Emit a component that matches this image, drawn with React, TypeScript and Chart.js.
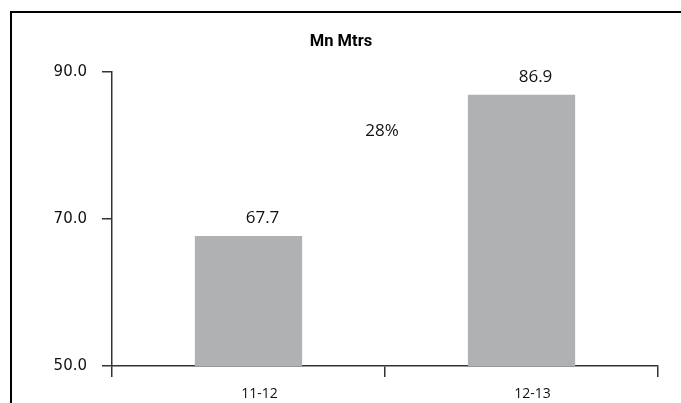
import React, { useEffect, useRef } from "react";
import { Chart, registerables } from "chart.js";

Chart.register(...registerables);

const categories = ["11-12", "12-13"];
const values = [67.7, 86.9];
const yTicks = [50, 70, 90];
const chartTitle = "Mn Mtrs";
const growthLabel = `${Math.round((values[1] / values[0] - 1) * 100)}%`;
const growthLabelAt = 82; // y value where the growth label sits

const overlayPlugin = {
  id: "overlay",
  afterDatasetsDraw(chart: any) {
    const { ctx, scales } = chart;
    const meta = chart.getDatasetMeta(0);
    ctx.save();
    // title
    ctx.fillStyle = "#000";
    ctx.font = "bold 16.5px Roboto";
    ctx.textAlign = "center";
    ctx.textBaseline = "middle";
    ctx.fillText(chartTitle, 341, 42);
    // value labels
    ctx.font = "17px 'Open Sans'";
    ctx.fillStyle = "#111";
    meta.data.forEach((bar: any, i: number) => {
      ctx.fillText(values[i].toFixed(1), bar.x + 14, bar.y - 18);
    });
    // growth label
    const x0 = meta.data[0].x;
    const x1 = meta.data[1].x;
    ctx.fillText(growthLabel, (x0 + x1) / 2 - 3, scales.y.getPixelForValue(growthLabelAt));
    ctx.restore();
  },
};

export default function App() {
  const ref = useRef<HTMLCanvasElement | null>(null);
  useEffect(() => {
    if (!ref.current) return;
    const chart = new Chart(ref.current, {
      type: "bar",
      data: {
        labels: categories,
        datasets: [
          {
            data: values,
            backgroundColor: "#b0b1b3",
            borderWidth: 0,
            barPercentage: 0.393,
            categoryPercentage: 1,
          },
        ],
      },
      options: {
        animation: false,
        responsive: false,
        maintainAspectRatio: false,
        layout: { padding: { left: 0, top: 72, right: 23, bottom: 0 } },
        plugins: { legend: { display: false }, tooltip: { enabled: false }, title: { display: false } },
        scales: {
          x: {
            grid: {
              offset: true,
              drawOnChartArea: false,
              drawTicks: true,
              tickLength: 11,
              color: "#333",
              lineWidth: 1.5,
            },
            border: { display: true, color: "#333", width: 1.5 },
            ticks: {
              color: "#111",
              font: { family: "'Open Sans'", size: 14 },
              padding: 9,
              labelOffset: 11,
              maxRotation: 0,
            },
            afterFit(scale: any) {
              scale.height = 37;
            },
          },
          y: {
            min: 50,
            max: 90,
            afterBuildTicks(scale: any) {
              scale.ticks = yTicks.map((v) => ({ value: v }));
            },
            grid: {
              drawOnChartArea: false,
              drawTicks: true,
              tickLength: 10,
              color: "#333",
              lineWidth: 1.5,
            },
            border: { display: true, color: "#333", width: 1.5 },
            ticks: {
              color: "#111",
              font: { family: "'DejaVu Sans'", size: 15 },
              padding: 15,
              callback: (v: any) => Number(v).toFixed(1),
            },
            afterFit(scale: any) {
              scale.width = 112;
            },
          },
        },
      },
      plugins: [overlayPlugin],
    });
    return () => chart.destroy();
  }, []);

  return (
    <div style={{ position: "absolute", left: 0, top: 0, width: 681, height: 403, overflow: "hidden", background: "#fff" }}>
      <div
        style={{
          position: "absolute",
          left: 10,
          top: 11,
          width: 700,
          height: 420,
          borderTop: "2px solid #000",
          borderLeft: "2px solid #000",
        }}
      />
      <canvas ref={ref} width={681} height={403} style={{ position: "absolute", left: 0, top: 0 }} />
    </div>
  );
}
